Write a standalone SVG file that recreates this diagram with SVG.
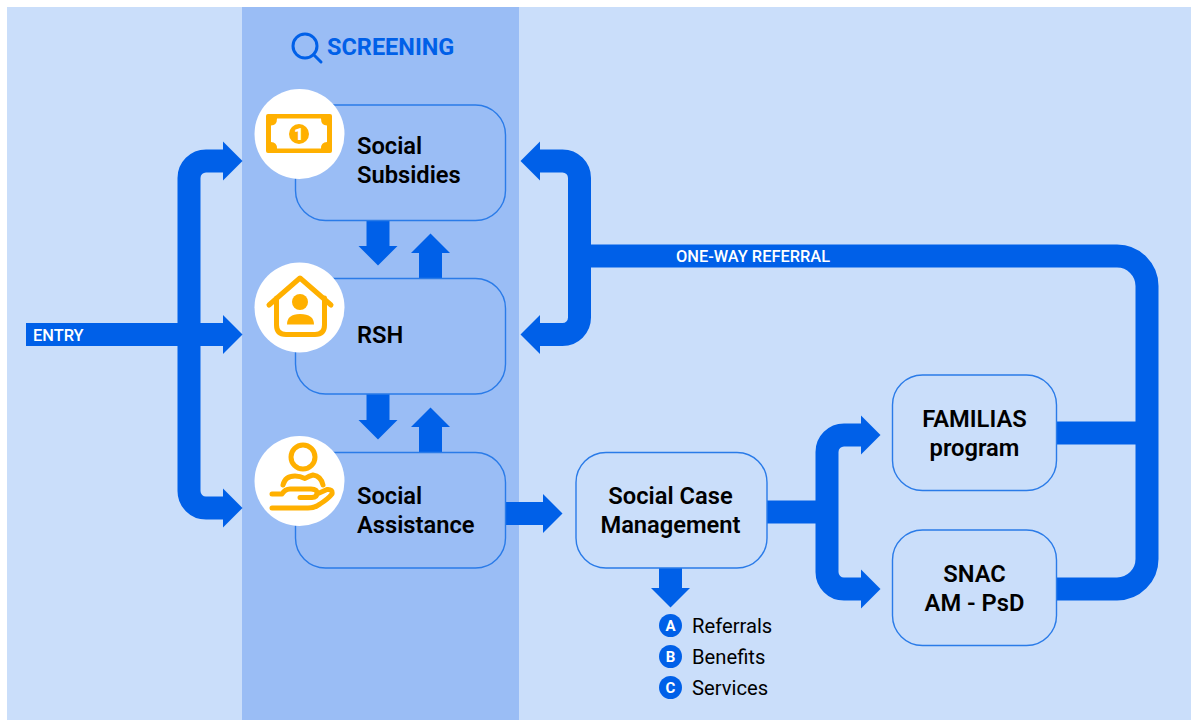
<svg xmlns="http://www.w3.org/2000/svg" width="1191" height="720" viewBox="0 0 1191 720">
<style>
.flow{fill:none;stroke:#0060e8;stroke-width:23}
.box{stroke:#2a7be8;stroke-width:1.4}
.t{font-family:Roboto,"Liberation Sans",sans-serif;font-size:23.700px;font-weight:600;fill:#000}
.w{font-family:Roboto,"Liberation Sans",sans-serif;font-size:16.400px;font-weight:500;fill:#fff}
.l{font-family:Roboto,"Liberation Sans",sans-serif;font-size:20.200px;fill:#000}
.b{font-family:Roboto,"Liberation Sans",sans-serif;font-size:15px;font-weight:700;fill:#fff;text-anchor:middle}
.ic{fill:none;stroke:#ffb000;stroke-width:5;stroke-linecap:round;stroke-linejoin:round}
.halo{fill:#fff}
.m{text-anchor:middle}
</style>
<defs>
<marker id="h" markerUnits="userSpaceOnUse" markerWidth="20" markerHeight="40" refX="0" refY="19.5" orient="auto-start-reverse" viewBox="0 0 20 39"><polygon points="0,0 19.5,19.5 0,39" fill="#0060e8"/></marker>
</defs>
<rect x="7" y="7" width="1184" height="713" fill="#cadefa"/>
<rect id="band" x="242" y="7" width="277" height="713" fill="#9abdf5"/>
<g id="screening-title">
<circle cx="305" cy="46" r="12" fill="none" stroke="#0060e8" stroke-width="3"/>
<line x1="313.500" y1="54.500" x2="321" y2="62" stroke="#0060e8" stroke-width="3" stroke-linecap="round"/>
<text x="327" y="55" font-family="Roboto,'Liberation Sans',sans-serif" font-size="23.500" font-weight="700" fill="#0060e8">SCREENING</text>
</g>
<g id="connectors">
<path class="flow" marker-end="url(#h)" d="M26 334.500H223"/>
<path class="flow" marker-start="url(#h)" marker-end="url(#h)" d="M223 161H206A17 17 0 0 0 189 178V491A17 17 0 0 0 206 508H223"/>
<path class="flow" marker-end="url(#h)" d="M378 220V246"/>
<path class="flow" marker-end="url(#h)" d="M430.500 278V253"/>
<path class="flow" marker-end="url(#h)" d="M378 394V420"/>
<path class="flow" marker-end="url(#h)" d="M430.500 452V427"/>
<path class="flow" marker-end="url(#h)" d="M505 513.500H543"/>
<path class="flow" marker-end="url(#h)" d="M670.500 568V588"/>
<path class="flow" d="M767 512H827"/>
<path class="flow" marker-start="url(#h)" marker-end="url(#h)" d="M861 435H844A17 17 0 0 0 827 452V572A17 17 0 0 0 844 589H861"/>
<path class="flow" d="M1056 433H1147"/>
<path class="flow" d="M1056 589H1117A30 30 0 0 0 1147 559V286A30 30 0 0 0 1117 256H579"/>
<path class="flow" marker-start="url(#h)" marker-end="url(#h)" d="M540 161H562.500A17 17 0 0 1 579.500 178V317.500A17 17 0 0 1 562.500 334.500H540"/>
</g>
<g id="social-subsidies">
<rect class="box" x="295.500" y="105" width="210" height="115.500" rx="30" fill="#9abdf5"/>
<circle class="halo" cx="299.500" cy="134" r="45"/>
<path fill="#ffb000" d="M268 114H330Q332 114 332 116V151Q332 153 330 153H268Q266 153 266 151V116Q266 114 268 114Z"/>
<path fill="#fff" d="M277 118.500H321Q321 125.500 327 125.500V142Q321 142 321 148.500H277Q277 142 271 142V125.500Q277 125.500 277 118.500Z"/>
<circle cx="299" cy="134" r="10" fill="#ffb000"/>
<text x="299" y="140" font-family="Roboto,'Liberation Sans',sans-serif" font-size="17" font-weight="900" fill="#fff" text-anchor="middle">1</text>
<text class="t" x="357" y="154">Social</text>
<text class="t" x="357" y="183">Subsidies</text>
</g>
<g id="rsh">
<rect class="box" x="295.500" y="278.500" width="210" height="115.500" rx="30" fill="#9abdf5"/>
<circle class="halo" cx="299.500" cy="307.500" r="45"/>
<path class="ic" d="M269 305L300 278L331 305M276.500 298V325Q276.500 334.500 286 334.500H315Q324.500 334.500 324.500 325V298"/>
<circle cx="300" cy="302" r="8" fill="#ffb000"/>
<path fill="#ffb000" d="M287 324.500Q287 314 300 314Q314 314 314 324.500Z"/>
<text class="t" x="357" y="343">RSH</text>
</g>
<g id="social-assistance">
<rect class="box" x="295.500" y="452.500" width="210" height="115.500" rx="30" fill="#9abdf5"/>
<circle class="halo" cx="299.500" cy="481" r="45"/>
<circle class="ic" cx="303" cy="457" r="12"/>
<path class="ic" d="M283 485Q285 476 295 476Q300 476 305 478.500Q309 476 313 475Q321 476 323 485"/>
<path class="ic" d="M272 494H282Q285 489 290 489H311Q317 489 317 493Q317 497.500 312 497.500H300M317 494L327 489.500Q333 489 332 494Q328 499 320 504Q315 508 308 508H272"/>
<text class="t" x="357" y="504">Social</text>
<text class="t" x="357" y="533">Assistance</text>
</g>
<g id="social-case-management">
<rect class="box" x="576" y="452.500" width="191" height="115.500" rx="30" fill="#cadefa"/>
<text class="t m" x="670.500" y="504">Social Case</text>
<text class="t m" x="670.500" y="533">Management</text>
</g>
<g id="outcomes">
<circle cx="670.500" cy="625.500" r="11.500" fill="#0060e8"/><text class="b" x="670.500" y="631">A</text><text class="l" x="692" y="633">Referrals</text>
<circle cx="670.500" cy="656.500" r="11.500" fill="#0060e8"/><text class="b" x="670.500" y="662">B</text><text class="l" x="692" y="664">Benefits</text>
<circle cx="670.500" cy="687.500" r="11.500" fill="#0060e8"/><text class="b" x="670.500" y="693">C</text><text class="l" x="692" y="695">Services</text>
</g>
<g id="familias">
<rect class="box" x="892.500" y="375" width="164" height="115.500" rx="30" fill="#cadefa"/>
<text class="t m" x="974.500" y="427">FAMILIAS</text>
<text class="t m" x="974.500" y="456">program</text>
</g>
<g id="snac">
<rect class="box" x="892.500" y="530" width="164" height="115.500" rx="30" fill="#cadefa"/>
<text class="t m" x="974.500" y="582">SNAC</text>
<text class="t m" x="974.500" y="611">AM - PsD</text>
</g>
<text class="w" x="33" y="341">ENTRY</text>
<text class="w" x="676" y="262">ONE-WAY REFERRAL</text>
</svg>
